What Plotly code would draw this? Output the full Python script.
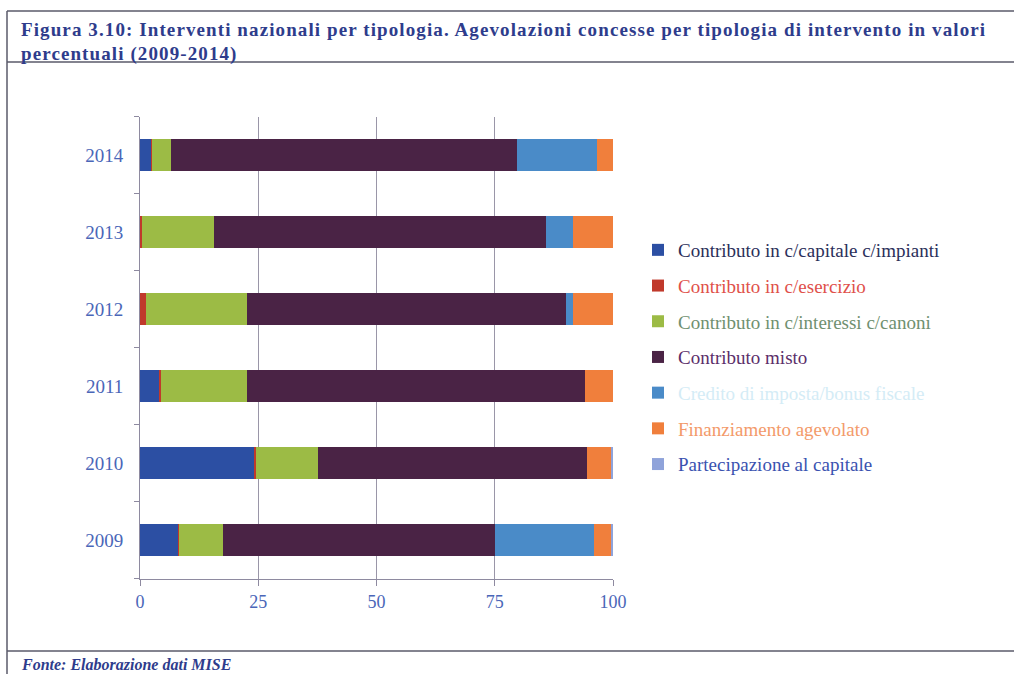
import plotly.graph_objects as go

years = ["2009", "2010", "2011", "2012", "2013", "2014"]
series_names = [
    "Contributo in c/capitale c/impianti",
    "Contributo in c/esercizio",
    "Contributo in c/interessi c/canoni",
    "Contributo misto",
    "Credito di imposta/bonus fiscale",
    "Finanziamento agevolato",
    "Partecipazione al capitale",
]
capitale_impianti = [8.1, 24.3, 4.1, 0.0, 0.0, 2.5]
esercizio = [0.2, 0.3, 0.3, 1.2, 0.4, 0.1]
interessi_canoni = [9.3, 13.1, 18.3, 21.4, 15.2, 3.9]
misto = [57.5, 56.7, 71.4, 67.5, 70.2, 73.2]
credito_imposta = [20.9, 0.0, 0.0, 1.4, 5.8, 16.9]
finanziamento = [3.7, 5.1, 5.9, 8.5, 8.4, 3.4]
partecipazione = [0.3, 0.5, 0.0, 0.0, 0.0, 0.0]
series_values = [capitale_impianti, esercizio, interessi_canoni, misto,
                 credito_imposta, finanziamento, partecipazione]
x_ticks = [0, 25, 50, 75, 100]

bar_colors = ["#2C4FA3", "#C0392B", "#9CBB45", "#4A2345", "#4A8BC8", "#F07F3C", "#8FA3DA"]
legend_text_colors = ["#2B2F5A", "#E0504A", "#6F9070", "#5B2E6A", "#D4ECF6", "#F39A6A", "#3A52B0"]

W, H = 1014, 674
def px_x(p):
    return p / W
def px_y(p):
    return 1 - p / H

serif = "Liberation Serif, Times New Roman, serif"
blue_text = "#2E3C8C"

fig = go.Figure()
for i, (name, vals) in enumerate(zip(series_names, series_values)):
    fig.add_trace(go.Bar(
        y=years, x=vals, orientation="h", width=0.41,
        name=f"<span style='color:{legend_text_colors[i]}'>{name}</span>",
        legendgroup=f"g{i}",
        marker=dict(color=bar_colors[i], line=dict(width=0)),
    ))

fig.update_layout(
    template="none",
    barmode="stack",
    width=W, height=H, autosize=False,
    margin=dict(l=0, r=0, t=0, b=0, pad=0, autoexpand=False),
    paper_bgcolor="white", plot_bgcolor="white",
    font=dict(family=serif, size=18, color="#4A66B8"),
    showlegend=True,
    legend=dict(
        x=px_x(638), y=px_y(231), xanchor="left", yanchor="top",
        traceorder="grouped", tracegroupgap=8,
        font=dict(family=serif, size=19),
        bgcolor="rgba(0,0,0,0)",
        itemwidth=30,
    ),
    xaxis=dict(
        domain=[px_x(140), px_x(613)],
        range=[0, 100], tickvals=x_ticks, ticktext=[str(v) for v in x_ticks],
        showgrid=True, gridcolor="#9A96A8", gridwidth=1,
        showline=True, linecolor="#8E8AA0", linewidth=1,
        ticks="outside", ticklen=6, tickcolor="#8E8AA0",
        zeroline=False, automargin=False,
        tickfont=dict(family=serif, size=18, color="#4A66B8"),
        ticklabelstandoff=1,
    ),
    yaxis=dict(
        domain=[px_y(578.5), px_y(116.5)],
        type="category", categoryorder="array", categoryarray=years,
        range=[-0.5, 5.5],
        showgrid=False, zeroline=False, automargin=False,
        showline=True, linecolor="#8E8AA0", linewidth=1,
        ticks="outside", ticklen=5, tickcolor="#8E8AA0", tickson="boundaries",
        tickfont=dict(family=serif, size=19, color="#4A66B8"),
        ticklabelstandoff=12,
    ),
)

line_col = "#5A5A6A"
shapes = [
    dict(type="line", xref="paper", yref="paper", x0=px_x(7), x1=1, y0=px_y(11), y1=px_y(11),
         line=dict(color=line_col, width=1.5)),
    dict(type="line", xref="paper", yref="paper", x0=px_x(7), x1=px_x(7), y0=px_y(11), y1=0,
         line=dict(color=line_col, width=1.5)),
    dict(type="line", xref="paper", yref="paper", x0=px_x(7), x1=1, y0=px_y(62), y1=px_y(62),
         line=dict(color=line_col, width=1.5)),
    dict(type="line", xref="paper", yref="paper", x0=px_x(7), x1=1, y0=px_y(651), y1=px_y(651),
         line=dict(color=line_col, width=1.5)),
]
fig.update_layout(shapes=shapes)

title_lines = [
    "Figura 3.10: Interventi nazionali per tipologia. Agevolazioni concesse per tipologia di intervento in valori",
    "percentuali (2009-2014)",
]
for k, line in enumerate(title_lines):
    fig.add_annotation(
        xref="paper", yref="paper", x=px_x(19), y=px_y(30 + 24 * k), xanchor="left", yanchor="middle",
        align="left", showarrow=False,
        text=f"<b><span style='letter-spacing:1.1px'>{line}</span></b>",
        font=dict(family=serif, size=19, color=blue_text),
    )
fig.add_annotation(
    xref="paper", yref="paper", x=px_x(19), y=px_y(664), xanchor="left", yanchor="middle",
    align="left", showarrow=False,
    text="<b><i>Fonte: Elaborazione dati MISE</i></b>",
    font=dict(family=serif, size=16, color=blue_text),
)

fig.write_html(
    "out.html",
    config={"displayModeBar": False, "responsive": False},
    post_script="document.body.style.margin='0';document.body.style.overflow='hidden';",
)
